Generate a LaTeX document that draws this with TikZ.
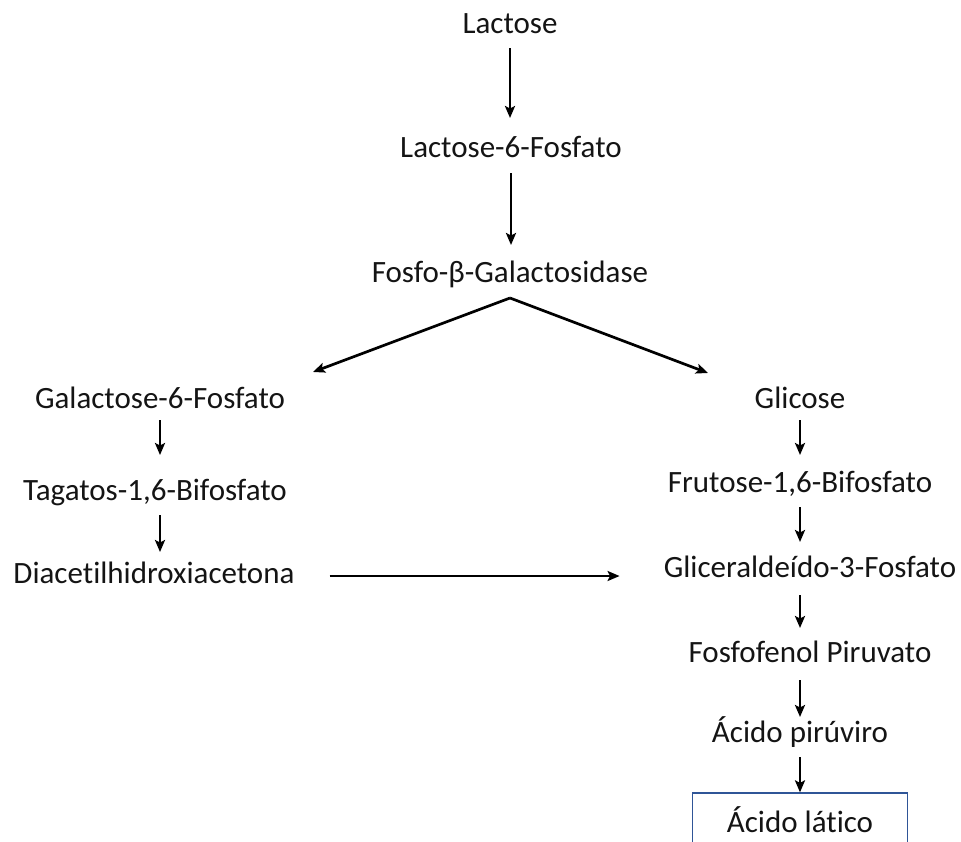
\documentclass[tikz,border=0pt]{standalone}
\usepackage{fontspec}
\setmainfont{Carlito}[Ligatures=NoCommon]
\usetikzlibrary{arrows.meta}
\definecolor{boxblue}{RGB}{47,85,151}
\definecolor{txt}{RGB}{20,20,20}
\tikzset{
  lbl/.style={anchor=base, inner sep=0pt, text height=22pt, text depth=8pt, text=txt,
    font=\fontsize{31}{37}\selectfont},
  arr/.style={line width=2.7pt, -{Stealth[length=12pt,width=10pt,inset=2.5pt]}},
  endbox/.style={lbl, draw=boxblue, line width=1.3pt, inner ysep=17pt, minimum width=215pt}
}
\begin{document}
\begin{tikzpicture}[x=1pt,y=-1pt]
\useasboundingbox (0,0) rectangle (961,841);
\clip (0,0) rectangle (961,841);
\node[lbl] (lac) at (510,33) {Lactose};
\node[lbl] (l6f) at (511,157) {Lactose-6-Fosfato};
\node[lbl] (fbg) at (510,282) {Fosfo-β-Galactosidase};
\node[lbl] (gal) at (160,408) {Galactose-6-Fosfato};
\node[lbl] (tag) at (155,500) {Tagatos-1,6-Bifosfato};
\node[lbl] (dia) at (154,583) {Diacetilhidroxiacetona};
\node[lbl] (gli) at (800,408) {Glicose};
\node[lbl] (fru) at (800,492) {Frutose-1,6-Bifosfato};
\node[lbl] (gld) at (810,577) {Gliceraldeído-3-Fosfato};
\node[lbl] (fpp) at (810,662) {Fosfofenol Piruvato};
\node[lbl] (acp) at (800,742) {Ácido pirúviro};
\node[endbox] (acl) at (800,832) {Ácido lático};
% main stem
\draw[arr] ([yshift=-15pt]lac.base) -- ([yshift=39pt]lac.base |- l6f.base);
\draw[arr] ([yshift=-16pt]l6f.base) -- ([yshift=37pt]l6f.base |- fbg.base);
% split
\draw[arr] ([yshift=-16pt]fbg.base) -- ([xshift=153pt,yshift=36pt]gal.base);
\draw[arr] ([yshift=-16pt]fbg.base) -- ([xshift=-92pt,yshift=35pt]gli.base);
% left column
\draw[arr] ([yshift=-12pt]gal.base) -- ([xshift=5pt,yshift=45pt]tag.base);
\draw[arr] ([xshift=5pt,yshift=-15pt]tag.base) -- ([xshift=6pt,yshift=31pt]dia.base);
% cross
\draw[arr] ([xshift=35pt,yshift=7pt]dia.base east) -- ([xshift=-44pt,yshift=7pt]dia.base -| gld.base west);
% right column
\draw[arr] ([yshift=-12pt]gli.base) -- ([yshift=37pt]fru.base);
\draw[arr] ([yshift=-15pt]fru.base) -- ([xshift=-10pt,yshift=35pt]gld.base);
\draw[arr] ([xshift=-10pt,yshift=-18pt]gld.base) -- ([xshift=-10pt,yshift=34pt]fpp.base);
\draw[arr] ([xshift=-10pt,yshift=-18pt]fpp.base) -- ([yshift=25pt]acp.base);
\draw[arr] ([yshift=-15pt]acp.base) -- (acl.north);
\end{tikzpicture}
\end{document}
